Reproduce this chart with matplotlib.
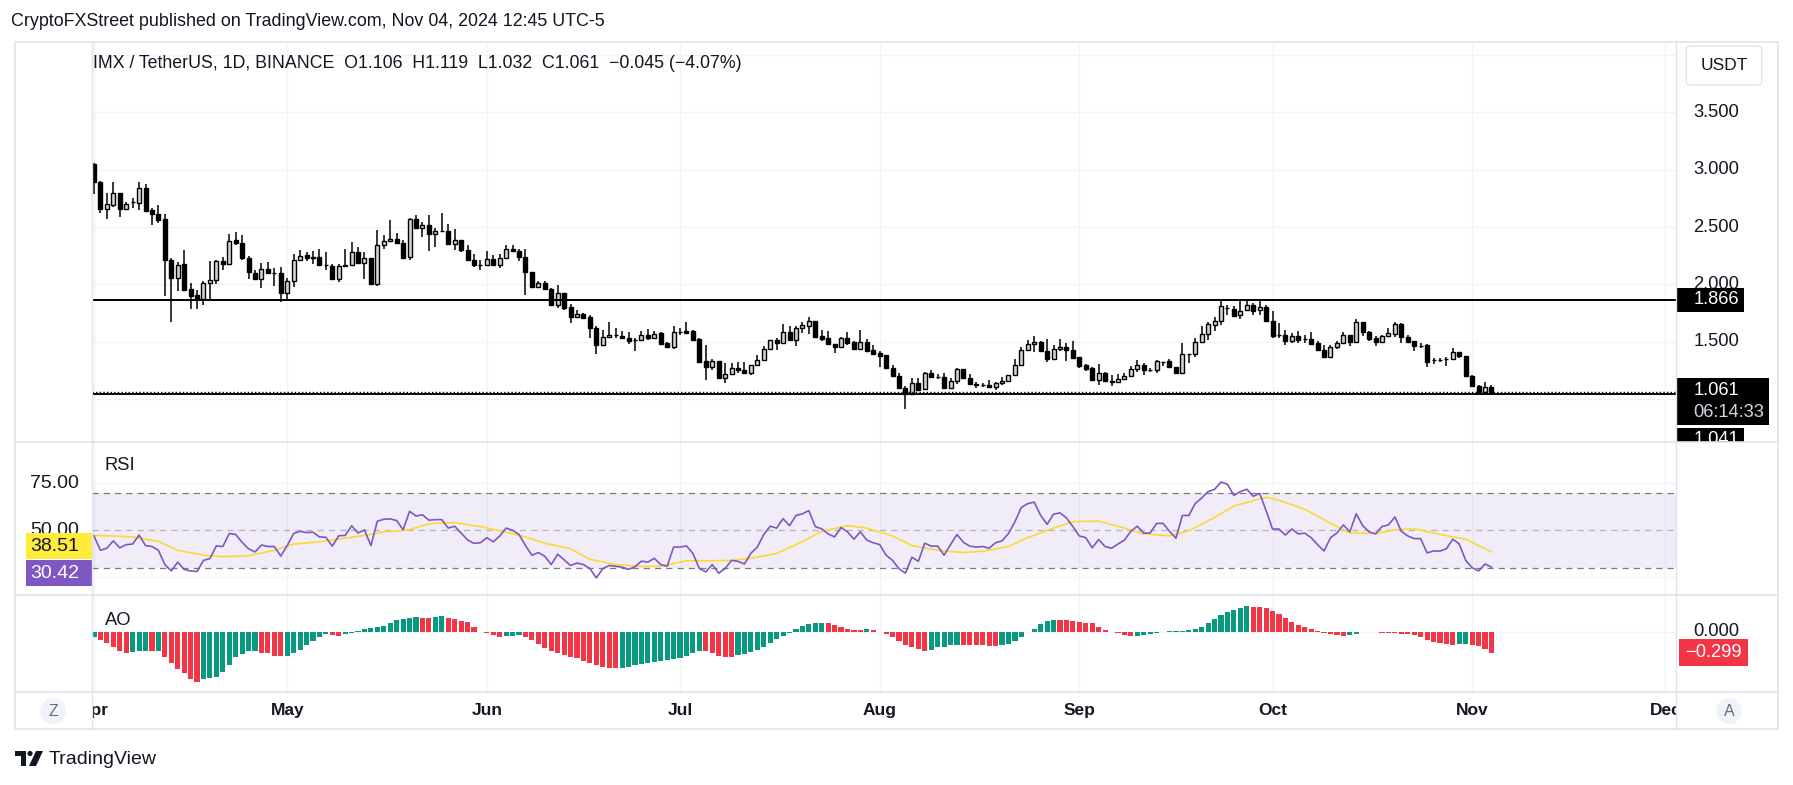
import numpy as np
import pandas as pd
import matplotlib
matplotlib.use('Agg')
import matplotlib.pyplot as plt
from matplotlib.patches import Rectangle, Circle, Polygon, FancyBboxPatch

W, H = 1793, 785
plt.rcParams['font.family'] = ['Liberation Sans', 'DejaVu Sans']

dates = pd.date_range('2024-04-01', periods=218, freq='D')

opens = [
    3.053, 2.897, 2.657, 2.693, 2.801, 2.657, 2.716, 2.713, 2.845, 2.646,
    2.616, 2.567, 2.215, 2.054, 2.180, 1.958, 1.908, 1.873, 2.010, 2.037,
    2.204, 2.177, 2.391, 2.362, 2.233, 2.098, 2.048, 2.133, 2.098, 2.098,
    1.922, 2.028, 2.212, 2.253, 2.242, 2.242, 2.168, 2.163, 2.045, 2.163,
    2.168, 2.283, 2.186, 2.233, 2.007, 2.344, 2.379, 2.400, 2.362, 2.236,
    2.567, 2.493, 2.520, 2.441, 2.467, 2.467, 2.350, 2.391, 2.303, 2.212,
    2.168, 2.168, 2.221, 2.168, 2.230, 2.312, 2.291, 2.239, 2.107, 1.981,
    2.010, 1.958, 1.823, 1.925, 1.799, 1.717, 1.741, 1.712, 1.624, 1.471,
    1.542, 1.562, 1.553, 1.536, 1.518, 1.518, 1.562, 1.530, 1.574, 1.486,
    1.454, 1.589, 1.594, 1.592, 1.521, 1.328, 1.281, 1.328, 1.182, 1.217,
    1.272, 1.255, 1.225, 1.296, 1.343, 1.439, 1.518, 1.492, 1.583, 1.515,
    1.621, 1.638, 1.679, 1.553, 1.530, 1.483, 1.457, 1.536, 1.495, 1.436,
    1.495, 1.425, 1.398, 1.381, 1.275, 1.205, 1.097, 1.047, 1.141, 1.088,
    1.225, 1.196, 1.196, 1.097, 1.158, 1.264, 1.187, 1.132, 1.123, 1.123,
    1.102, 1.141, 1.161, 1.208, 1.299, 1.430, 1.480, 1.501, 1.422, 1.348,
    1.437, 1.457, 1.430, 1.363, 1.293, 1.272, 1.170, 1.228, 1.161, 1.146,
    1.173, 1.199, 1.264, 1.299, 1.255, 1.255, 1.325, 1.328, 1.281, 1.225,
    1.395, 1.395, 1.498, 1.571, 1.650, 1.685, 1.797, 1.788, 1.729, 1.773,
    1.817, 1.773, 1.799, 1.685, 1.562, 1.562, 1.507, 1.553, 1.524, 1.524,
    1.486, 1.430, 1.369, 1.457, 1.492, 1.562, 1.498, 1.676, 1.589, 1.530,
    1.498, 1.553, 1.571, 1.653, 1.545, 1.504, 1.466, 1.469, 1.343, 1.343,
    1.345, 1.351, 1.413, 1.378, 1.199, 1.114, 1.059, 1.106]

highs = [
    3.060, 2.900, 2.795, 2.892, 2.801, 2.722, 2.757, 2.892, 2.874, 2.669,
    2.693, 2.616, 2.233, 2.195, 2.303, 2.010, 1.949, 2.031, 2.206, 2.215,
    2.236, 2.441, 2.461, 2.432, 2.244, 2.124, 2.189, 2.195, 2.145, 2.151,
    2.054, 2.265, 2.303, 2.285, 2.294, 2.312, 2.285, 2.177, 2.177, 2.312,
    2.370, 2.324, 2.283, 2.233, 2.479, 2.435, 2.558, 2.452, 2.385, 2.581,
    2.605, 2.546, 2.605, 2.493, 2.619, 2.523, 2.482, 2.391, 2.344, 2.265,
    2.209, 2.291, 2.256, 2.265, 2.341, 2.344, 2.312, 2.312, 2.107, 2.034,
    2.034, 1.966, 1.996, 1.925, 1.826, 1.773, 1.750, 1.732, 1.638, 1.600,
    1.668, 1.624, 1.592, 1.583, 1.533, 1.594, 1.609, 1.592, 1.589, 1.498,
    1.635, 1.624, 1.671, 1.600, 1.530, 1.468, 1.351, 1.328, 1.310, 1.310,
    1.325, 1.325, 1.296, 1.381, 1.463, 1.518, 1.533, 1.653, 1.638, 1.638,
    1.668, 1.712, 1.679, 1.606, 1.592, 1.483, 1.545, 1.589, 1.510, 1.600,
    1.521, 1.474, 1.419, 1.387, 1.293, 1.223, 1.111, 1.182, 1.182, 1.237,
    1.249, 1.214, 1.228, 1.182, 1.269, 1.264, 1.214, 1.149, 1.141, 1.170,
    1.149, 1.193, 1.211, 1.346, 1.457, 1.518, 1.548, 1.507, 1.521, 1.474,
    1.521, 1.492, 1.510, 1.369, 1.305, 1.281, 1.307, 1.240, 1.208, 1.217,
    1.228, 1.287, 1.337, 1.313, 1.272, 1.340, 1.325, 1.351, 1.281, 1.486,
    1.395, 1.536, 1.635, 1.668, 1.712, 1.867, 1.817, 1.808, 1.852, 1.867,
    1.837, 1.852, 1.817, 1.764, 1.659, 1.606, 1.580, 1.597, 1.562, 1.586,
    1.507, 1.474, 1.469, 1.507, 1.583, 1.562, 1.697, 1.676, 1.594, 1.553,
    1.562, 1.624, 1.674, 1.662, 1.562, 1.510, 1.492, 1.477, 1.357, 1.357,
    1.369, 1.448, 1.413, 1.378, 1.208, 1.123, 1.149, 1.119]

lows = [
    2.789, 2.619, 2.575, 2.675, 2.584, 2.649, 2.669, 2.649, 2.634, 2.517,
    2.540, 1.902, 1.673, 1.946, 1.946, 1.788, 1.788, 1.823, 1.867, 2.007,
    2.130, 2.177, 2.341, 2.209, 2.048, 2.040, 1.972, 2.098, 1.990, 1.849,
    1.858, 1.975, 2.201, 2.201, 2.180, 2.165, 2.130, 2.045, 2.019, 2.151,
    2.157, 2.186, 2.051, 2.007, 1.990, 2.306, 2.379, 2.359, 2.233, 2.209,
    2.482, 2.411, 2.288, 2.324, 2.467, 2.350, 2.303, 2.280, 2.209, 2.154,
    2.130, 2.168, 2.168, 2.139, 2.230, 2.283, 2.201, 1.911, 1.975, 1.981,
    1.958, 1.814, 1.794, 1.779, 1.665, 1.717, 1.697, 1.533, 1.395, 1.463,
    1.533, 1.533, 1.533, 1.483, 1.419, 1.518, 1.515, 1.524, 1.480, 1.454,
    1.439, 1.562, 1.580, 1.507, 1.325, 1.164, 1.252, 1.182, 1.141, 1.208,
    1.231, 1.225, 1.208, 1.296, 1.331, 1.439, 1.430, 1.492, 1.504, 1.466,
    1.574, 1.565, 1.542, 1.507, 1.477, 1.401, 1.457, 1.469, 1.428, 1.436,
    1.410, 1.389, 1.281, 1.266, 1.190, 1.085, 0.909, 1.047, 1.073, 1.079,
    1.182, 1.176, 1.097, 1.097, 1.132, 1.184, 1.123, 1.094, 1.108, 1.102,
    1.082, 1.120, 1.161, 1.199, 1.287, 1.430, 1.413, 1.419, 1.322, 1.337,
    1.422, 1.331, 1.351, 1.272, 1.243, 1.170, 1.126, 1.155, 1.111, 1.146,
    1.173, 1.199, 1.234, 1.208, 1.234, 1.228, 1.287, 1.281, 1.220, 1.220,
    1.313, 1.366, 1.489, 1.515, 1.594, 1.647, 1.735, 1.720, 1.700, 1.773,
    1.729, 1.735, 1.668, 1.536, 1.533, 1.471, 1.492, 1.492, 1.492, 1.483,
    1.419, 1.369, 1.369, 1.439, 1.477, 1.463, 1.492, 1.551, 1.510, 1.463,
    1.498, 1.545, 1.545, 1.492, 1.492, 1.419, 1.448, 1.281, 1.302, 1.325,
    1.284, 1.343, 1.360, 1.190, 1.111, 1.059, 1.050, 1.032]

closes = [
    2.897, 2.657, 2.704, 2.801, 2.657, 2.704, 2.716, 2.845, 2.640, 2.616,
    2.561, 2.209, 2.054, 2.168, 1.952, 1.902, 1.870, 2.010, 2.037, 2.204,
    2.174, 2.379, 2.362, 2.230, 2.107, 2.045, 2.133, 2.098, 2.098, 1.922,
    2.028, 2.212, 2.247, 2.230, 2.230, 2.165, 2.165, 2.045, 2.160, 2.168,
    2.283, 2.186, 2.233, 2.007, 2.341, 2.379, 2.400, 2.359, 2.233, 2.567,
    2.490, 2.520, 2.438, 2.467, 2.470, 2.350, 2.388, 2.297, 2.209, 2.165,
    2.171, 2.221, 2.168, 2.230, 2.312, 2.288, 2.236, 2.104, 1.981, 2.016,
    1.958, 1.823, 1.925, 1.797, 1.717, 1.738, 1.709, 1.618, 1.471, 1.545,
    1.562, 1.562, 1.533, 1.507, 1.518, 1.559, 1.533, 1.571, 1.480, 1.454,
    1.589, 1.589, 1.580, 1.515, 1.325, 1.281, 1.328, 1.182, 1.217, 1.269,
    1.249, 1.225, 1.296, 1.343, 1.439, 1.518, 1.489, 1.583, 1.515, 1.618,
    1.644, 1.679, 1.542, 1.524, 1.477, 1.454, 1.536, 1.489, 1.436, 1.495,
    1.419, 1.389, 1.372, 1.275, 1.199, 1.094, 1.047, 1.141, 1.082, 1.228,
    1.190, 1.196, 1.097, 1.161, 1.264, 1.184, 1.132, 1.120, 1.123, 1.102,
    1.143, 1.161, 1.211, 1.299, 1.430, 1.483, 1.501, 1.419, 1.348, 1.439,
    1.457, 1.428, 1.357, 1.287, 1.266, 1.170, 1.228, 1.155, 1.146, 1.176,
    1.202, 1.266, 1.296, 1.252, 1.255, 1.328, 1.325, 1.281, 1.225, 1.395,
    1.395, 1.501, 1.571, 1.653, 1.685, 1.808, 1.797, 1.720, 1.770, 1.817,
    1.770, 1.799, 1.682, 1.551, 1.562, 1.507, 1.551, 1.512, 1.521, 1.483,
    1.430, 1.369, 1.457, 1.492, 1.562, 1.498, 1.668, 1.589, 1.524, 1.498,
    1.551, 1.574, 1.653, 1.545, 1.498, 1.463, 1.466, 1.325, 1.337, 1.343,
    1.348, 1.413, 1.378, 1.199, 1.111, 1.059, 1.105, 1.061]

rsi = [
    47.0, 39.4, 40.5, 44.4, 40.7, 42.4, 42.7, 47.5, 41.9, 41.4,
    39.4, 31.8, 28.4, 33.1, 29.2, 28.4, 28.1, 34.0, 35.0, 41.7,
    41.4, 48.3, 47.8, 43.6, 40.2, 38.5, 42.2, 41.4, 41.4, 36.3,
    41.9, 48.3, 49.5, 48.8, 49.0, 46.5, 46.3, 41.6, 47.1, 47.3,
    52.4, 48.6, 50.2, 41.9, 54.9, 55.9, 56.1, 55.2, 50.3, 60.1,
    57.6, 58.3, 55.4, 55.7, 55.7, 51.2, 52.2, 48.6, 44.9, 43.1,
    43.4, 46.1, 43.9, 47.0, 51.2, 50.0, 47.8, 41.9, 36.7, 38.2,
    36.2, 31.8, 37.3, 34.3, 31.3, 32.6, 31.8, 29.7, 24.7, 29.6,
    31.3, 30.9, 30.4, 29.2, 30.6, 33.6, 33.1, 35.1, 31.8, 30.9,
    41.1, 41.1, 41.7, 37.7, 29.7, 27.9, 31.8, 27.2, 29.7, 34.0,
    33.5, 32.1, 37.8, 41.1, 47.8, 52.2, 51.2, 56.2, 52.5, 57.9,
    58.8, 60.5, 52.0, 50.8, 48.1, 46.5, 51.5, 49.2, 45.3, 49.2,
    44.8, 43.4, 42.4, 36.8, 34.0, 29.6, 27.2, 35.7, 33.5, 43.2,
    41.6, 41.6, 36.8, 42.4, 47.8, 43.6, 41.6, 41.1, 41.4, 40.5,
    43.4, 44.4, 48.3, 54.6, 62.2, 64.2, 65.0, 57.9, 53.2, 58.6,
    59.3, 56.6, 52.0, 47.0, 46.1, 40.7, 45.1, 41.4, 40.5, 42.7,
    44.8, 49.5, 52.2, 48.5, 48.6, 53.7, 53.7, 49.5, 45.8, 57.9,
    57.9, 64.3, 67.2, 70.6, 71.8, 75.7, 74.5, 68.6, 70.6, 71.9,
    68.1, 69.7, 60.5, 50.7, 50.7, 47.5, 50.7, 48.1, 48.5, 46.1,
    42.4, 39.0, 46.1, 48.6, 52.9, 49.2, 58.8, 52.5, 49.2, 48.1,
    52.0, 52.9, 57.1, 49.5, 47.0, 45.6, 45.6, 38.0, 39.0, 39.0,
    40.2, 45.3, 42.7, 34.0, 30.1, 28.4, 32.1, 30.42]

# RSI-based moving average, read at a sample of days
rsi_ma_day = [0, 3, 6, 10, 13, 17, 20, 24, 28, 31, 35, 38, 42, 45, 49, 52, 56,
              60, 63, 67, 70, 74, 77, 81, 85, 88, 92, 95, 99, 102, 106, 110,
              113, 117, 120, 124, 127, 131, 135, 138, 142, 145, 149, 152, 156,
              160, 163, 167, 170, 174, 177, 182, 184, 188, 192, 195, 199, 202,
              205, 208, 211, 213, 215, 217]
rsi_ma = [47.3, 47.0, 46.5, 44.1, 39.4, 36.8, 36.0, 36.5, 39.4, 42.7, 43.9,
          45.3, 47.3, 49.2, 50.3, 53.5, 54.2, 52.0, 49.8, 46.5, 43.1, 40.2,
          34.6, 31.8, 30.8, 30.9, 33.8, 33.8, 34.0, 35.1, 37.7, 44.0, 49.5,
          52.5, 51.2, 47.0, 41.9, 39.4, 38.2, 38.9, 41.4, 46.1, 51.2, 54.6,
          54.9, 51.2, 48.1, 47.1, 49.8, 56.8, 63.0, 67.6, 66.0, 61.3, 53.7,
          48.6, 48.3, 50.3, 50.8, 48.6, 46.5, 45.3, 41.9, 38.51]

ao = [
    -0.077, -0.116, -0.154, -0.212, -0.270, -0.299, -0.294, -0.275, -0.272, -0.280,
    -0.276, -0.357, -0.443, -0.540, -0.588, -0.684, -0.718, -0.684, -0.660, -0.646,
    -0.574, -0.477, -0.366, -0.318, -0.275, -0.270, -0.299, -0.308, -0.347, -0.350,
    -0.342, -0.308, -0.260, -0.188, -0.125, -0.067, -0.029, -0.043, -0.058, -0.029,
    -0.010, 0.019, 0.039, 0.063, 0.077, 0.092, 0.125, 0.174, 0.188, 0.207,
    0.212, 0.202, 0.198, 0.217, 0.231, 0.198, 0.188, 0.164, 0.140, 0.077,
    0.005, -0.019, -0.043, -0.067, -0.060, -0.053, -0.043, -0.067, -0.116, -0.174,
    -0.236, -0.275, -0.308, -0.333, -0.357, -0.381, -0.415, -0.443, -0.482, -0.511,
    -0.516, -0.525, -0.521, -0.501, -0.482, -0.463, -0.443, -0.429, -0.415, -0.405,
    -0.390, -0.370, -0.345, -0.310, -0.270, -0.280, -0.308, -0.347, -0.362, -0.366,
    -0.337, -0.318, -0.294, -0.260, -0.212, -0.164, -0.106, -0.058, -0.010, 0.039,
    0.087, 0.116, 0.130, 0.135, 0.130, 0.096, 0.077, 0.048, 0.029, 0.024,
    0.043, 0.029, -0.005, -0.029, -0.077, -0.125, -0.188, -0.222, -0.251, -0.270,
    -0.260, -0.222, -0.212, -0.193, -0.186, -0.188, -0.190, -0.192, -0.195, -0.198,
    -0.202, -0.188, -0.174, -0.130, -0.067, 0.005, 0.043, 0.116, 0.164, 0.174,
    0.169, 0.167, 0.159, 0.145, 0.135, 0.125, 0.077, 0.029, 0.005, -0.019,
    -0.048, -0.058, -0.053, -0.043, -0.034, -0.019, -0.005, 0.010, 0.014, 0.019,
    0.029, 0.048, 0.077, 0.135, 0.183, 0.246, 0.294, 0.318, 0.342, 0.381,
    0.366, 0.362, 0.342, 0.308, 0.260, 0.198, 0.149, 0.101, 0.077, 0.048,
    0.019, -0.010, -0.034, -0.048, -0.058, -0.043, -0.029, -0.005, 0.005, -0.005,
    -0.010, -0.014, -0.019, -0.024, -0.034, -0.048, -0.077, -0.116, -0.145, -0.164,
    -0.178, -0.183, -0.174, -0.169, -0.183, -0.202, -0.251, -0.299]

price_grid = [1.0, 1.5, 2.0, 2.5, 3.0, 3.5, 4.0]
price_labels = [1.5, 2.0, 2.5, 3.0, 3.5]
resistance = 1.866
support = 1.041

x = np.arange(len(dates))
months = pd.date_range('2024-04-01', '2024-12-01', freq='MS')
month_x = (months - dates[0]).days.values
month_lbl = months.strftime('%b')

TXT = '#131722'
GRID = '#f2f3f6'
BORDER = '#e0e3eb'
XLIM = (-0.31, 245.65)
FS = 13.2

fig = plt.figure(figsize=(W / 100, H / 100), dpi=100)


def box(x0, y0, x1, y1):
    return [x0 / W, 1 - y1 / H, (x1 - x0) / W, (y1 - y0) / H]


# ---- price pane
ax = fig.add_axes(box(92, 42, 1676, 442))
ax.set_xlim(*XLIM)
ax.set_ylim(0.625, 4.115)
ax.axis('off')
for p in price_grid:
    ax.axhline(p, color=GRID, lw=1, zorder=0)
for m in month_x:
    ax.axvline(m, color=GRID, lw=1, zorder=0)

o, hi, lo, c = map(np.array, (opens, highs, lows, closes))
up = c >= o
ax.vlines(x, lo, hi, color='black', lw=1.1, zorder=2)
ax.bar(x, np.abs(c - o), bottom=np.minimum(o, c), width=0.62,
       color=np.where(up, '#d1d4dc', 'black'), edgecolor='black',
       linewidth=1.0, zorder=3)
ax.axhline(resistance, color='black', lw=1.4, zorder=4)
ax.axhline(support, color='black', lw=1.4, zorder=4)
ax.axhline(closes[-1], color='black', lw=1.0, ls=(0, (1, 1.6)), zorder=4)

# right price scale
aps = fig.add_axes(box(1676, 42, 1778, 442))
aps.set_xlim(0, 1)
aps.set_ylim(0.625, 4.115)
aps.axis('off')
for p in price_labels:
    aps.text(0.17, p, f'{p:.3f}', ha='left', va='center', fontsize=FS, color=TXT)
aps.add_patch(Rectangle((0, resistance - 0.105), 0.67, 0.21, fc='black', ec='none', zorder=5))
aps.text(0.17, resistance, f'{resistance:.3f}', ha='left', va='center',
         fontsize=FS, color='white', zorder=6)
aps.add_patch(Rectangle((0, 0.55), 0.67, 0.20, fc='black', ec='none', zorder=5))
aps.text(0.17, 0.645, f'{support:.3f}', ha='left', va='center',
         fontsize=FS, color='white', zorder=6)
aps.add_patch(Rectangle((0, 0.773), 0.91, 0.41, fc='black', ec='none', zorder=7))
aps.text(0.17, 1.072, f'{closes[-1]:.3f}', ha='left', va='center',
         fontsize=FS, color='white', zorder=8)
aps.text(0.17, 0.88, '06:14:33', ha='left', va='center',
         fontsize=FS, color='#d1d4dc', zorder=8)
aps.add_patch(FancyBboxPatch((0.1, 3.74), 0.74, 0.34, boxstyle='round,pad=0,rounding_size=0.06',
                             mutation_aspect=0.4, fc='white', ec=BORDER, lw=1, zorder=5))
aps.text(0.47, 3.91, 'USDT', ha='center', va='center', fontsize=12.5, color=TXT, zorder=6)

# ---- RSI pane
ar = fig.add_axes(box(92, 442, 1676, 595))
ar.set_xlim(*XLIM)
ar.set_ylim(15.6, 97.0)
ar.axis('off')
for m in month_x:
    ar.axvline(m, color=GRID, lw=1, zorder=0)
for g in (25, 75):
    ar.axhline(g, color=GRID, lw=1, zorder=0)
ar.axhspan(30, 70, color='#7e57c2', alpha=0.1, lw=0, zorder=1)
ar.axhline(70, color='#787b86', lw=0.9, ls=(0, (5, 4)), zorder=2)
ar.axhline(50, color='#787b86', alpha=0.5, lw=0.9, ls=(0, (5, 4)), zorder=2)
ar.axhline(30, color='#787b86', lw=0.9, ls=(0, (5, 4)), zorder=2)
ar.plot(x, rsi, color='#7e57c2', lw=1.2, zorder=4)
ar.plot(rsi_ma_day, rsi_ma, color='#fdd835', lw=1.2, zorder=3)
ar.text(-0.31 + 2.0, 84.5, 'RSI', ha='left', va='center', fontsize=FS, color=TXT)

arl = fig.add_axes(box(15, 442, 92, 595))
arl.set_xlim(0, 1)
arl.set_ylim(15.6, 97.0)
arl.axis('off')
for g in (75, 50, 25):
    arl.text(0.83, g, f'{g:.2f}', ha='right', va='center', fontsize=14, color=TXT)
ma_last, rsi_last = rsi_ma[-1], rsi[-1]
arl.add_patch(Rectangle((0.14, ma_last + 3.1 - 6.9), 0.86, 13.8, fc='#ffeb3b', ec='none', zorder=5))
arl.text(0.83, ma_last + 3.1, f'{ma_last:.2f}', ha='right', va='center',
         fontsize=14, color=TXT, zorder=6)
arl.add_patch(Rectangle((0.14, rsi_last - 3.2 - 6.9), 0.86, 13.8, fc='#7e57c2', ec='none', zorder=5))
arl.text(0.83, rsi_last - 3.2, f'{rsi_last:.2f}', ha='right', va='center',
         fontsize=14, color='white', zorder=6)

# ---- AO pane
aa = fig.add_axes(box(92, 595, 1676, 692))
aa.set_xlim(*XLIM)
aa.set_ylim(-0.868, 0.535)
aa.axis('off')
for m in month_x:
    aa.axvline(m, color=GRID, lw=1, zorder=0)
aa.axhline(0, color=GRID, lw=1, zorder=0)
ao_arr = np.array(ao)
rising = np.r_[True, ao_arr[1:] >= ao_arr[:-1]]
aa.bar(x, ao_arr, width=0.8, color=np.where(rising, '#089981', '#f23645'), lw=0, zorder=3)
aa.text(-0.31 + 2.0, 0.17, 'AO', ha='left', va='center', fontsize=FS, color=TXT)

aas = fig.add_axes(box(1676, 595, 1778, 692))
aas.set_xlim(0, 1)
aas.set_ylim(-0.868, 0.535)
aas.axis('off')
aas.text(0.17, 0.0, '0.000', ha='left', va='center', fontsize=FS, color=TXT)
aas.add_patch(Rectangle((0.03, ao[-1] - 0.195), 0.68, 0.39, fc='#f23645', ec='none', zorder=5))
aas.text(0.37, ao[-1], f'{ao[-1]:.3f}'.replace('-', '\u2212'), ha='center', va='center',
         fontsize=FS, color='white', zorder=6)

# ---- time axis
at = fig.add_axes(box(92, 692, 1676, 729))
at.set_xlim(*XLIM)
at.set_ylim(0, 1)
at.axis('off')
for m, lb in zip(month_x, month_lbl):
    at.text(m, 0.5, lb, ha='center', va='center', fontsize=12.5, color=TXT,
            fontweight='bold', clip_on=True)

# ---- frame and decorations in pixel space
ov = fig.add_axes([0, 0, 1, 1], zorder=10)
ov.set_xlim(0, W)
ov.set_ylim(H, 0)
ov.axis('off')
ov.patch.set_alpha(0)
ov.add_patch(Rectangle((15, 42), 1763, 687, fill=False, ec=BORDER, lw=1.2))
for yy in (442, 595, 692):
    ov.plot([15, 1778], [yy, yy], color=BORDER, lw=1.2)
for xx in (92, 1676):
    ov.plot([xx, xx], [42, 729], color=BORDER, lw=1.0)
ov.add_patch(Circle((53, 711), 13, fc='#f0f3fa', ec='none'))
ov.text(53, 711, 'Z', ha='center', va='center', fontsize=11.5, color='#6a6d78')
ov.add_patch(Circle((1729, 711), 13, fc='#f0f3fa', ec='none'))
ov.text(1729, 711, 'A', ha='center', va='center', fontsize=11.5, color='#6a6d78')

fig.text(11 / W, 1 - 22 / H, 'CryptoFXStreet published on TradingView.com, Nov 04, 2024 12:45 UTC-5',
         ha='left', va='center', fontsize=12.9, color=TXT)
fig.text(93 / W, 1 - 64 / H,
         'IMX / TetherUS, 1D, BINANCE  O1.106  H1.119  L1.032  C1.061  \u22120.045 (\u22124.07%)',
         ha='left', va='center', fontsize=12.8, color=TXT)

# TradingView logo
ov.add_patch(Polygon([(15, 751), (26, 751), (26, 766), (21, 766), (21, 756), (15, 756)],
                     closed=True, fc=TXT, ec='none'))
ov.add_patch(Circle((30, 753.5), 2.6, fc=TXT, ec='none'))
ov.add_patch(Polygon([(36, 751), (43, 751), (36, 766), (29, 766)], closed=True, fc=TXT, ec='none'))
ov.text(49, 759, 'TradingView', ha='left', va='center', fontsize=14, color=TXT)

fig.savefig('out.png', dpi=100, facecolor='white')
